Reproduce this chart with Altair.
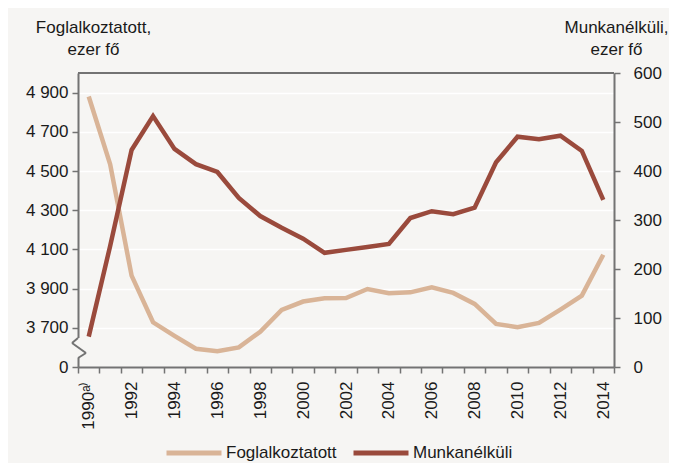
import altair as alt
import pandas as pd

years = list(range(1990, 2015))
foglalkoztatott = [4880, 4534, 3966, 3728, 3659, 3593, 3580, 3600, 3680, 3791,
                   3834, 3851, 3852, 3898, 3876, 3881, 3907, 3878, 3822, 3720,
                   3703, 3725, 3793, 3864, 4073]
munkanelkuli = [62, 247, 443, 512, 445, 414, 398, 345, 308, 284,
                262, 233, 239, 245, 251, 304, 318, 312, 325, 418,
                470, 465, 472, 441, 341]
series_names = ["Foglalkoztatott", "Munkanélküli"]
series_colors = ["#d9b497", "#9a4a3c"]
left_ticks = [3500, 3700, 3900, 4100, 4300, 4500, 4700, 4900]
right_ticks = [0, 100, 200, 300, 400, 500, 600]
x_ticks = [y - 0.5 for y in years] + [years[-1] + 0.5]

df = pd.DataFrame({
    "year": years * 2,
    "value": foglalkoztatott + munkanelkuli,
    "series": [series_names[0]] * len(years) + [series_names[1]] * len(years),
})

FONT = "Liberation Sans"
AX = "#737373"
BG = "#f6f5f3"
TXT = "#1a1a1a"
W, H = 536, 294
band = W / len(years)

color = alt.Color(
    "series:N",
    scale=alt.Scale(domain=series_names, range=series_colors),
    legend=alt.Legend(
        title=None, orient="none", legendX=86, legendY=350, offset=0,
        direction="horizontal",
        symbolType="stroke", symbolSize=3025, symbolStrokeWidth=5,
        labelFont=FONT, labelFontSize=17, labelColor=TXT,
        columnPadding=6, labelOffset=2,
    ),
)

x = alt.X(
    "year:Q",
    scale=alt.Scale(domain=[1989.5, 2014.5], nice=False, zero=False),
    axis=alt.Axis(
        values=x_ticks, title=None, labelAngle=-90,
        labelExpr="datum.value == 1989.5 ? '1990ᵃ⁾' : (((datum.value + 0.5) % 2 == 0 && datum.value < 2014) ? toString(datum.value + 0.5) : '')",
        labelOffset=band / 2, labelOverlap=False, labelFlush=False,
        tickSize=6, tickColor=AX, tickWidth=1.5, domainColor=AX, domainWidth=2,
        labelPadding=8, labelFontSize=17, labelFont=FONT, labelColor=TXT,
        grid=False, zindex=1,
    ),
)

yL = alt.Y(
    "value:Q",
    scale=alt.Scale(domain=[3500, 5000], nice=False, zero=False),
    axis=alt.Axis(
        orient="left", values=left_ticks,
        labelExpr="datum.value == 3500 ? '0' : replace(format(datum.value, ','), ',', ' ')",
        title=["Foglalkoztatott,", "ezer fő"], titleAngle=0, titleX=15, titleY=-41,
        titleAlign="center", titleBaseline="alphabetic", titleFontWeight="normal",
        titleFontSize=17, titleFont=FONT, titleColor=TXT, titleLineHeight=22,
        grid=True, gridColor="white", gridWidth=1.5,
        tickSize=6, tickColor=AX, tickWidth=1.5, domainColor=AX, domainWidth=2,
        labelPadding=4, labelFontSize=17, labelFont=FONT, labelColor=TXT, zindex=0,
    ),
)

yR = alt.Y(
    "value:Q",
    scale=alt.Scale(domain=[0, 600], nice=False),
    axis=alt.Axis(
        orient="right", values=right_ticks, format="d",
        title=["Munkanélküli,", "ezer fő"], titleAngle=0, titleX=2, titleY=-41,
        titleAlign="center", titleBaseline="alphabetic", titleFontWeight="normal",
        titleFontSize=17, titleFont=FONT, titleColor=TXT, titleLineHeight=22,
        grid=False,
        tickSize=6, tickColor=AX, tickWidth=1.5, domainColor=AX, domainWidth=2,
        labelPadding=13, labelFontSize=17, labelFont=FONT, labelColor=TXT, zindex=1,
    ),
)

base = alt.Chart(df)
emp = base.transform_filter(alt.datum.series == series_names[0]).mark_line(
    strokeWidth=4.5).encode(x=x, y=yL, color=color)
unemp = base.transform_filter(alt.datum.series == series_names[1]).mark_line(
    strokeWidth=4.5).encode(x=x, y=yR, color=color)

dummy = alt.Data(values=[{"d": 1}])
top_border = alt.Chart(dummy).mark_rule(color=AX, strokeWidth=2).encode(
    x=alt.value(0), x2=alt.value(W), y=alt.value(0))
cover = alt.Chart(dummy).mark_rule(color=BG, strokeWidth=5).encode(
    x=alt.value(0), y=alt.value(265), y2=alt.value(285))
zig1 = alt.Chart(dummy).mark_rule(color=AX, strokeWidth=2).encode(
    x=alt.value(0), y=alt.value(265), x2=alt.value(-6), y2=alt.value(270))
zig2 = alt.Chart(dummy).mark_rule(color=AX, strokeWidth=2).encode(
    x=alt.value(-6), y=alt.value(270), x2=alt.value(8), y2=alt.value(280))
zig3 = alt.Chart(dummy).mark_rule(color=AX, strokeWidth=2).encode(
    x=alt.value(8), y=alt.value(280), x2=alt.value(0), y2=alt.value(285))

chart = alt.layer(emp, unemp, top_border, cover, zig1, zig2, zig3).resolve_scale(
    y="independent"
).properties(
    width=W, height=H,
    padding={"left": 70, "top": 65, "right": 55, "bottom": 96},
    autosize=alt.AutoSizeParams(type="none"),
    background=BG,
).configure_view(stroke=None).configure(font=FONT)

chart.save("out.html", embed_options={"renderer": "svg", "actions": False})
